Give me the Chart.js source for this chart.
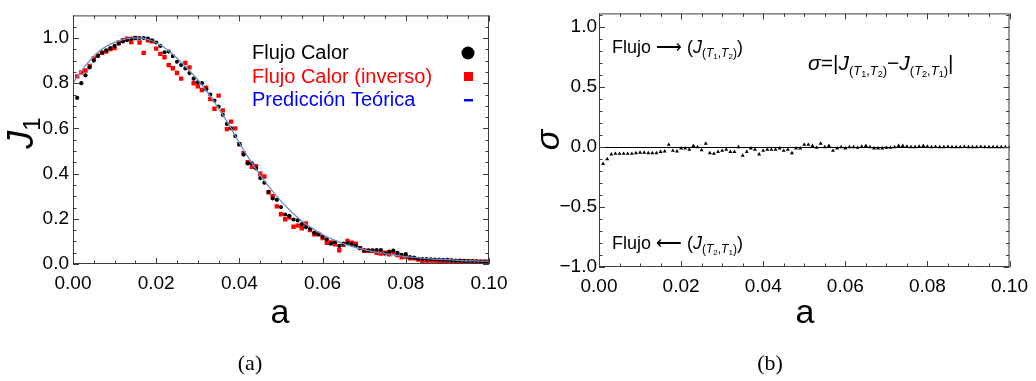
<!DOCTYPE html>
<html>
<head>
<meta charset="utf-8">
<script src="https://cdn.jsdelivr.net/npm/chart.js@4.4.1/dist/chart.umd.min.js"></script>
<style>
  body { margin: 0; background: #fff; width: 1036px; height: 381px; overflow: hidden; position: relative; }
  .box { position: absolute; top: 0; height: 381px; }
</style>
</head>
<body>
<div class="box" style="left:0;width:520px"><canvas id="left"></canvas></div>
<div class="box" style="left:520px;width:516px"><canvas id="right"></canvas></div>
<script>
// sampled a values (same grid for all point series)
const aGrid = [0.001,0.002,0.003,0.004,0.005,0.006,0.007,0.008,0.009,0.010,
  0.011,0.012,0.013,0.014,0.015,0.016,0.017,0.018,0.019,0.020,
  0.021,0.022,0.023,0.024,0.025,0.026,0.027,0.028,0.029,0.030,
  0.031,0.032,0.033,0.034,0.035,0.036,0.037,0.038,0.039,0.040,
  0.041,0.042,0.043,0.044,0.045,0.046,0.047,0.048,0.049,0.050,
  0.051,0.052,0.053,0.054,0.055,0.056,0.057,0.058,0.059,0.060,
  0.061,0.062,0.063,0.064,0.065,0.066,0.067,0.068,0.069,0.070,
  0.071,0.072,0.073,0.074,0.075,0.076,0.077,0.078,0.079,0.080,
  0.081,0.082,0.083,0.084,0.085,0.086,0.087,0.088,0.089,0.090,
  0.091,0.092,0.093,0.094,0.095,0.096,0.097,0.098,0.099,0.100];

// Flujo Calor (black dots)
const flujoCalor = [0.735,0.80,0.835,0.87,0.90,0.92,0.935,0.945,0.955,0.965,
  0.975,0.985,0.99,0.997,1.0,1.0,1.0,0.997,0.99,0.98,
  0.965,0.937,0.94,0.92,0.895,0.88,0.865,0.845,0.82,0.804,
  0.80,0.773,0.75,0.723,0.697,0.66,0.62,0.60,0.566,0.53,
  0.484,0.445,0.445,0.423,0.38,0.36,0.319,0.29,0.284,0.252,
  0.219,0.213,0.197,0.193,0.176,0.163,0.155,0.138,0.131,0.121,
  0.109,0.09,0.097,0.08,0.09,0.093,0.087,0.08,0.07,0.059,
  0.06,0.06,0.062,0.062,0.046,0.055,0.059,0.049,0.04,0.044,
  0.03,0.028,0.023,0.023,0.022,0.021,0.02,0.02,0.018,0.018,
  0.016,0.015,0.015,0.014,0.013,0.013,0.012,0.011,0.011,0.01];

// Flujo Calor (inverso) (red squares)
const flujoInverso = [0.83,0.848,0.856,0.876,0.91,0.923,0.935,0.94,0.951,0.955,
  0.98,0.99,0.997,0.982,1.0,0.98,0.934,0.99,0.985,0.953,
  0.93,0.915,0.88,0.866,0.845,0.82,0.89,0.87,0.80,0.786,
  0.77,0.78,0.73,0.687,0.745,0.68,0.597,0.63,0.60,0.53,
  0.49,0.45,0.43,0.433,0.40,0.387,0.317,0.30,0.255,0.22,
  0.198,0.207,0.165,0.17,0.158,0.18,0.15,0.131,0.133,0.115,
  0.094,0.095,0.087,0.061,0.085,0.102,0.094,0.09,0.07,0.06,
  0.058,0.058,0.05,0.046,0.05,0.043,0.05,0.04,0.03,0.032,
  0.025,0.025,0.02,0.012,0.015,0.015,0.015,0.014,0.014,0.013,
  0.013,0.01,0.012,0.012,0.011,0.01,0.01,0.01,0.01,0.01];

// Prediccion Teorica (line)
const aTheory = [0,0.002,0.004,0.006,0.008,0.010,0.012,0.014,0.016,0.018,
  0.020,0.022,0.024,0.026,0.028,0.030,0.032,0.034,0.036,0.038,
  0.040,0.042,0.044,0.046,0.048,0.050,0.052,0.054,0.056,0.058,
  0.060,0.062,0.064,0.066,0.068,0.070,0.072,0.074,0.076,0.078,
  0.080,0.082,0.084,0.086,0.088,0.090,0.092,0.094,0.096,0.098,0.100];
const jTheory = [0.80,0.855,0.90,0.937,0.963,0.981,0.993,0.999,1.0,0.994,
  0.979,0.957,0.928,0.893,0.855,0.815,0.768,0.716,0.66,0.60,
  0.535,0.475,0.42,0.368,0.321,0.278,0.24,0.206,0.177,0.152,
  0.13,0.112,0.097,0.084,0.073,0.064,0.056,0.049,0.043,0.038,
  0.033,0.029,0.026,0.023,0.021,0.019,0.017,0.015,0.014,0.013,0.012];

// sigma (black triangles)
const sigma = [-0.14,-0.10,-0.06,-0.055,-0.055,-0.055,-0.055,-0.055,-0.05,-0.045,
  -0.045,-0.05,-0.05,-0.05,-0.04,-0.035,0.02,-0.03,-0.035,-0.01,
  -0.01,-0.02,0.01,0.0,-0.025,0.03,-0.05,-0.055,-0.04,-0.03,
  -0.02,-0.04,-0.04,0.0,-0.07,-0.04,-0.01,-0.02,-0.06,-0.03,
  -0.02,-0.02,-0.02,-0.01,-0.03,-0.02,-0.05,-0.01,-0.01,0.02,
  0.02,0.01,-0.005,0.03,0.0,0.01,-0.03,-0.01,0.0,-0.01,
  0.0,0.0,-0.005,0.005,0.01,0.0,-0.01,-0.01,-0.01,-0.005,
  -0.005,0.0,0.01,0.01,0.005,0.0,0.0,0.005,0.01,0.005,
  0.0,0.002,0.0,0.0,0.002,0.0,0.0,0.0,0.002,0.0,
  0.0,0.0,0.002,0.0,0.0,0.0,0.0,0.0,0.0,0.0];

const xTicks = [0, 0.02, 0.04, 0.06, 0.08, 0.10];
const xMinor = [0.005,0.01,0.015,0.025,0.03,0.035,0.045,0.05,0.055,0.065,0.07,0.075,0.085,0.09,0.095];
const yTicksLeft = [0, 0.2, 0.4, 0.6, 0.8, 1.0];
const yTicksRight = [-1.0, -0.5, 0, 0.5, 1.0];

const SANS = "'Liberation Sans', Arial, sans-serif";
const FRAME = '#3c3c3c';

function pts(xs, ys) { return xs.map((x, i) => ({ x: x, y: ys[i] })); }

function runs(ctx, x, y, parts) {
  for (const p of parts) {
    ctx.font = p[1];
    ctx.fillText(p[0], x, y + (p[2] || 0));
    x += ctx.measureText(p[0]).width;
  }
  return x;
}
function runsWidth(ctx, parts) {
  let w = 0;
  for (const p of parts) { ctx.font = p[1]; w += ctx.measureText(p[0]).width; }
  return w;
}

// Mathematica-like frame with inward ticks
function drawFrame(chart, yMajor, yMinor) {
  const { ctx, chartArea: ca, scales } = chart;
  ctx.save();
  ctx.strokeStyle = FRAME;
  ctx.lineWidth = 1;
  ctx.strokeRect(ca.left + 0.5, ca.top + 0.5, ca.right - ca.left - 1, ca.bottom - ca.top - 1);
  ctx.beginPath();
  const tick = (v, len, horiz) => {
    if (horiz) {
      const px = Math.round(scales.x.getPixelForValue(v)) + 0.5;
      ctx.moveTo(px, ca.bottom); ctx.lineTo(px, ca.bottom - len);
      ctx.moveTo(px, ca.top); ctx.lineTo(px, ca.top + len);
    } else {
      const py = Math.round(scales.y.getPixelForValue(v)) + 0.5;
      ctx.moveTo(ca.left, py); ctx.lineTo(ca.left + len, py);
      ctx.moveTo(ca.right, py); ctx.lineTo(ca.right - len, py);
    }
  };
  xTicks.forEach(v => tick(v, 6, true));
  xMinor.forEach(v => tick(v, 3.5, true));
  yMajor.forEach(v => tick(v, 6, false));
  yMinor.forEach(v => tick(v, 3.5, false));
  ctx.stroke();
  ctx.restore();
}

const leftDeco = {
  id: 'leftDeco',
  afterDraw(chart) {
    const ctx = chart.ctx;
    drawFrame(chart, yTicksLeft,
      [0.05,0.1,0.15,0.25,0.3,0.35,0.45,0.5,0.55,0.65,0.7,0.75,0.85,0.9,0.95,1.05]);
    ctx.save();
    ctx.textBaseline = 'middle';
    ctx.textAlign = 'left';
    ctx.font = '20px ' + SANS;
    ctx.fillStyle = '#000'; ctx.fillText('Flujo Calor', 252, 53);
    ctx.fillStyle = '#ff0000'; ctx.fillText('Flujo Calor (inverso)', 252, 77);
    ctx.fillStyle = '#0000ff'; ctx.fillText('Predicción Teórica', 252, 100);
    ctx.fillStyle = '#000';
    ctx.beginPath(); ctx.arc(468, 53, 6.5, 0, Math.PI * 2); ctx.fill();
    ctx.fillStyle = '#ff0000'; ctx.fillRect(464, 72, 9, 9);
    ctx.fillStyle = '#0000ff'; ctx.fillRect(464, 99, 9, 2.5);
    // axis titles
    ctx.fillStyle = '#000';
    ctx.textAlign = 'center';
    ctx.textBaseline = 'alphabetic';
    ctx.font = '34px ' + SANS;
    ctx.fillText('a', 280, 323);
    ctx.font = '22px "Liberation Serif", "DejaVu Serif", serif';
    ctx.fillText('(a)', 250, 370);
    ctx.translate(33, 133);
    ctx.rotate(-Math.PI / 2);
    ctx.textAlign = 'left';
    const jp = [['J', 'italic 36px ' + SANS, 0], ['1', '24px ' + SANS, 7]];
    runs(ctx, -runsWidth(ctx, jp) / 2, 0, jp);
    ctx.restore();
  }
};

const rightDeco = {
  id: 'rightDeco',
  afterDraw(chart) {
    const ctx = chart.ctx;
    const { chartArea: ca, scales } = chart;
    ctx.save();
    ctx.strokeStyle = '#000';
    ctx.lineWidth = 1;
    const y0 = Math.round(scales.y.getPixelForValue(0)) + 0.5;
    ctx.beginPath(); ctx.moveTo(ca.left, y0); ctx.lineTo(ca.right, y0); ctx.stroke();
    ctx.restore();
    drawFrame(chart, yTicksRight,
      [-0.9,-0.8,-0.7,-0.6,-0.4,-0.3,-0.2,-0.1,0.1,0.2,0.3,0.4,0.6,0.7,0.8,0.9,1.1]);
    ctx.save();
    ctx.fillStyle = '#000';
    ctx.textAlign = 'left';
    ctx.textBaseline = 'alphabetic';
    const f = '18px ' + SANS, fi = 'italic 18px ' + SANS;
    const s = '12px ' + SANS, si = 'italic 12px ' + SANS, ss = '8px ' + SANS;
    runs(ctx, 92, 53, [['Flujo ', f], ['\u27F6', f], [' (', f], ['J', fi],
      ['(', s, 4], ['T', si, 4], ['1', ss, 6], [',', s, 4], ['T', si, 4], ['2', ss, 6], [')', s, 4], [')', f]]);
    runs(ctx, 92, 249, [['Flujo ', f], ['\u27F5', f], [' (', f], ['J', fi],
      ['(', s, 4], ['T', si, 4], ['2', ss, 6], [',', s, 4], ['T', si, 4], ['1', ss, 6], [')', s, 4], [')', f]]);
    const g = '21px ' + SANS, gi = 'italic 21px ' + SANS;
    const t = '13px ' + SANS, ti = 'italic 13px ' + SANS, tt = '9px ' + SANS;
    runs(ctx, 288, 70, [['\u03C3', gi], ['=|', g], ['J', gi],
      ['(', t, 5], ['T', ti, 5], ['1', tt, 7], [',', t, 5], ['T', ti, 5], ['2', tt, 7], [')', t, 5],
      ['\u2212', g], ['J', gi],
      ['(', t, 5], ['T', ti, 5], ['2', tt, 7], [',', t, 5], ['T', ti, 5], ['1', tt, 7], [')', t, 5], ['|', g]]);
    ctx.textAlign = 'center';
    ctx.font = '34px ' + SANS;
    ctx.fillText('a', 285, 323);
    ctx.font = '22px "Liberation Serif", "DejaVu Serif", serif';
    ctx.fillText('(b)', 250, 370);
    ctx.translate(30, 140);
    ctx.rotate(-Math.PI / 2);
    ctx.font = 'italic 34px ' + SANS;
    ctx.textBaseline = 'middle';
    ctx.fillText('\u03C3', 0, 0);
    ctx.restore();
  }
};

function xScale() {
  return {
    type: 'linear', min: 0, max: 0.1,
    grid: { display: false, drawTicks: false }, border: { display: false },
    afterBuildTicks: sc => { sc.ticks = xTicks.map(v => ({ value: v })); },
    afterFit: sc => { sc.height = 40; },
    ticks: { color: '#000', padding: 8, maxRotation: 0, autoSkip: false,
      font: { family: SANS, size: 19 }, callback: v => v.toFixed(2) }
  };
}

function yScale(min, max, list, width, pad, fmt) {
  return {
    type: 'linear', min: min, max: max,
    grid: { display: false, drawTicks: false }, border: { display: false },
    afterBuildTicks: sc => { sc.ticks = list.map(v => ({ value: v })); },
    afterFit: sc => { sc.width = width; },
    ticks: { color: '#000', padding: pad, autoSkip: false,
      font: { family: SANS, size: 19 }, callback: fmt }
  };
}

const common = {
  responsive: true, maintainAspectRatio: false, animation: false,
  plugins: { legend: { display: false }, tooltip: { enabled: false } }
};

new Chart(document.getElementById('left'), {
  type: 'scatter',
  data: {
    datasets: [
      { label: 'Predicción Teórica', type: 'line', data: pts(aTheory, jTheory),
        borderColor: '#6a8fc4', borderWidth: 1.3, pointRadius: 0,
        cubicInterpolationMode: 'monotone', fill: false },
      { label: 'Flujo Calor', data: pts(aGrid, flujoCalor),
        pointStyle: 'circle', pointRadius: 2.1, backgroundColor: '#000', borderWidth: 0 },
      { label: 'Flujo Calor (inverso)', data: pts(aGrid, flujoInverso),
        pointStyle: 'rect', pointRadius: 3.1, backgroundColor: '#ff0000', borderWidth: 0 }
    ]
  },
  options: Object.assign({}, common, {
    layout: { padding: { left: 0, top: 7, right: 31, bottom: 77 } },
    scales: {
      x: xScale(),
      y: yScale(0, 1.1, yTicksLeft, 73, 4, v => v.toFixed(1))
    }
  }),
  plugins: [leftDeco]
});

new Chart(document.getElementById('right'), {
  type: 'scatter',
  data: {
    datasets: [
      { label: 'sigma', data: pts(aGrid, sigma),
        pointStyle: 'triangle', pointRadius: 2.3, backgroundColor: '#000', borderWidth: 0 }
    ]
  },
  options: Object.assign({}, common, {
    layout: { padding: { left: 0, top: 10, right: 22, bottom: 74 } },
    scales: {
      x: xScale(),
      y: yScale(-1, 1.115, yTicksRight, 79, 2, v => v.toFixed(1).replace('-', '\u2212'))
    }
  }),
  plugins: [rightDeco]
});
</script>
</body>
</html>
